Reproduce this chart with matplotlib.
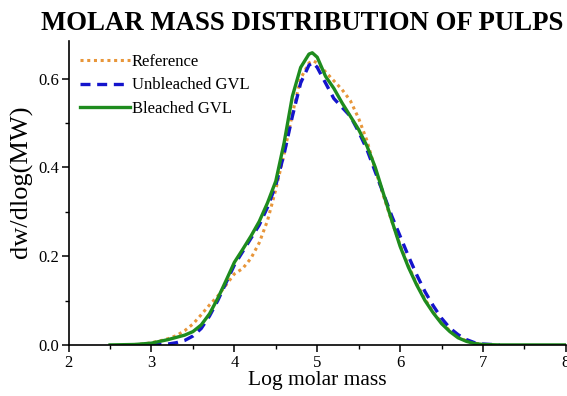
import matplotlib
matplotlib.use("Agg")
import matplotlib.pyplot as plt
from matplotlib.ticker import MultipleLocator, FormatStrFormatter

# -----------------------------------------------------------------------------
# Data
# -----------------------------------------------------------------------------
ref_x = [2.7, 2.9, 3.0, 3.1, 3.2, 3.3, 3.4, 3.5, 3.6, 3.7, 3.8, 3.9, 4.0, 4.1, 4.2,
         4.3, 4.4, 4.5, 4.6, 4.7, 4.8, 4.9, 4.95, 5.0, 5.1, 5.2, 5.3, 5.4, 5.5, 5.6,
         5.7, 5.8, 5.9, 6.0, 6.1, 6.2, 6.3, 6.4, 6.5, 6.6, 6.7, 6.8, 6.9, 7.0, 7.1]
ref_y = [0.0, 0.002, 0.005, 0.009, 0.014, 0.021, 0.032, 0.047, 0.068, 0.09, 0.11,
         0.135, 0.16, 0.172, 0.195, 0.23, 0.28, 0.35, 0.43, 0.52, 0.6, 0.635, 0.64,
         0.635, 0.615, 0.595, 0.575, 0.55, 0.51, 0.46, 0.395, 0.335, 0.278, 0.225,
         0.178, 0.138, 0.103, 0.074, 0.05, 0.032, 0.018, 0.009, 0.004, 0.001, 0.0]

unb_x = [3.0, 3.1, 3.2, 3.3, 3.4, 3.5, 3.6, 3.7, 3.8, 3.9, 4.0, 4.1, 4.2, 4.3, 4.4,
         4.5, 4.6, 4.7, 4.8, 4.9, 4.95, 5.0, 5.1, 5.2, 5.3, 5.4, 5.5, 5.6, 5.7, 5.8,
         5.9, 6.0, 6.1, 6.2, 6.3, 6.4, 6.5, 6.6, 6.7, 6.8, 6.9, 7.0, 7.1, 7.2]
unb_y = [0.0, 0.001, 0.002, 0.005, 0.01, 0.02, 0.037, 0.065, 0.1, 0.14, 0.18, 0.21,
         0.24, 0.27, 0.31, 0.36, 0.43, 0.515, 0.59, 0.63, 0.636, 0.625, 0.59, 0.555,
         0.535, 0.515, 0.48, 0.44, 0.39, 0.34, 0.29, 0.245, 0.2, 0.158, 0.12, 0.088,
         0.06, 0.038, 0.023, 0.012, 0.005, 0.002, 0.001, 0.0]

ble_x = [2.5, 2.8, 3.0, 3.2, 3.4, 3.5, 3.6, 3.7, 3.8, 3.9, 4.0, 4.1, 4.2, 4.3, 4.4,
         4.5, 4.6, 4.7, 4.8, 4.9, 4.94, 5.0, 5.1, 5.2, 5.3, 5.4, 5.5, 5.6, 5.7, 5.8,
         5.9, 6.0, 6.1, 6.2, 6.3, 6.4, 6.5, 6.6, 6.7, 6.8, 6.9, 7.0, 7.2, 8.0]
ble_y = [0.0, 0.001, 0.004, 0.012, 0.022, 0.03, 0.045, 0.07, 0.105, 0.145, 0.186,
         0.215, 0.245, 0.278, 0.32, 0.369, 0.455, 0.56, 0.625, 0.655, 0.658, 0.648,
         0.605, 0.578, 0.545, 0.515, 0.485, 0.448, 0.4, 0.34, 0.28, 0.222, 0.175,
         0.135, 0.1, 0.072, 0.048, 0.03, 0.016, 0.008, 0.003, 0.001, 0.0, 0.0]

# -----------------------------------------------------------------------------
# Plot
# -----------------------------------------------------------------------------
plt.rcParams['font.family'] = ['Liberation Serif', 'DejaVu Serif']

fig = plt.figure(figsize=(5.67, 3.96), dpi=100)
ax = fig.add_axes([0.121, 0.129, 0.877, 0.768])

ax.plot(ref_x, ref_y, color='#E8963A', linestyle=(0, (1, 1.2)), linewidth=2.2,
        label='Reference')
ax.plot(unb_x, unb_y, color='#1414CC', linestyle=(0, (3, 2)), linewidth=2.4,
        label='Unbleached GVL')
ax.plot(ble_x, ble_y, color='#1E8C1E', linestyle='-', linewidth=2.4,
        label='Bleached GVL')

ax.set_xlim(2, 8)
ax.set_ylim(0, 0.685)
ax.xaxis.set_major_locator(MultipleLocator(1))
ax.xaxis.set_minor_locator(MultipleLocator(0.5))
ax.yaxis.set_major_locator(MultipleLocator(0.2))
ax.yaxis.set_minor_locator(MultipleLocator(0.1))
ax.yaxis.set_major_formatter(FormatStrFormatter('%.1f'))

for side in ['top', 'right']:
    ax.spines[side].set_visible(False)
for side in ['left', 'bottom']:
    ax.spines[side].set_linewidth(1.2)

ax.tick_params(which='major', direction='out', length=5, width=1.1, labelsize=12,
               pad=2)
ax.tick_params(which='minor', direction='out', length=3, width=1.0)

ax.set_xlabel('Log molar mass', fontsize=15.5, labelpad=0)
ax.set_ylabel('dw/dlog(MW)', fontsize=19)
ax.yaxis.set_label_coords(-0.072, 0.535)
ax.set_title('MOLAR MASS DISTRIBUTION OF PULPS', fontsize=19.3, fontweight='bold',
             x=0.47, pad=8)

ax.legend(loc='upper left', bbox_to_anchor=(0.0, 0.995), frameon=False, fontsize=12,
          handlelength=3.0, handletextpad=0.1, labelspacing=0.45, borderaxespad=0.3)

fig.savefig('out.png', dpi=100)
